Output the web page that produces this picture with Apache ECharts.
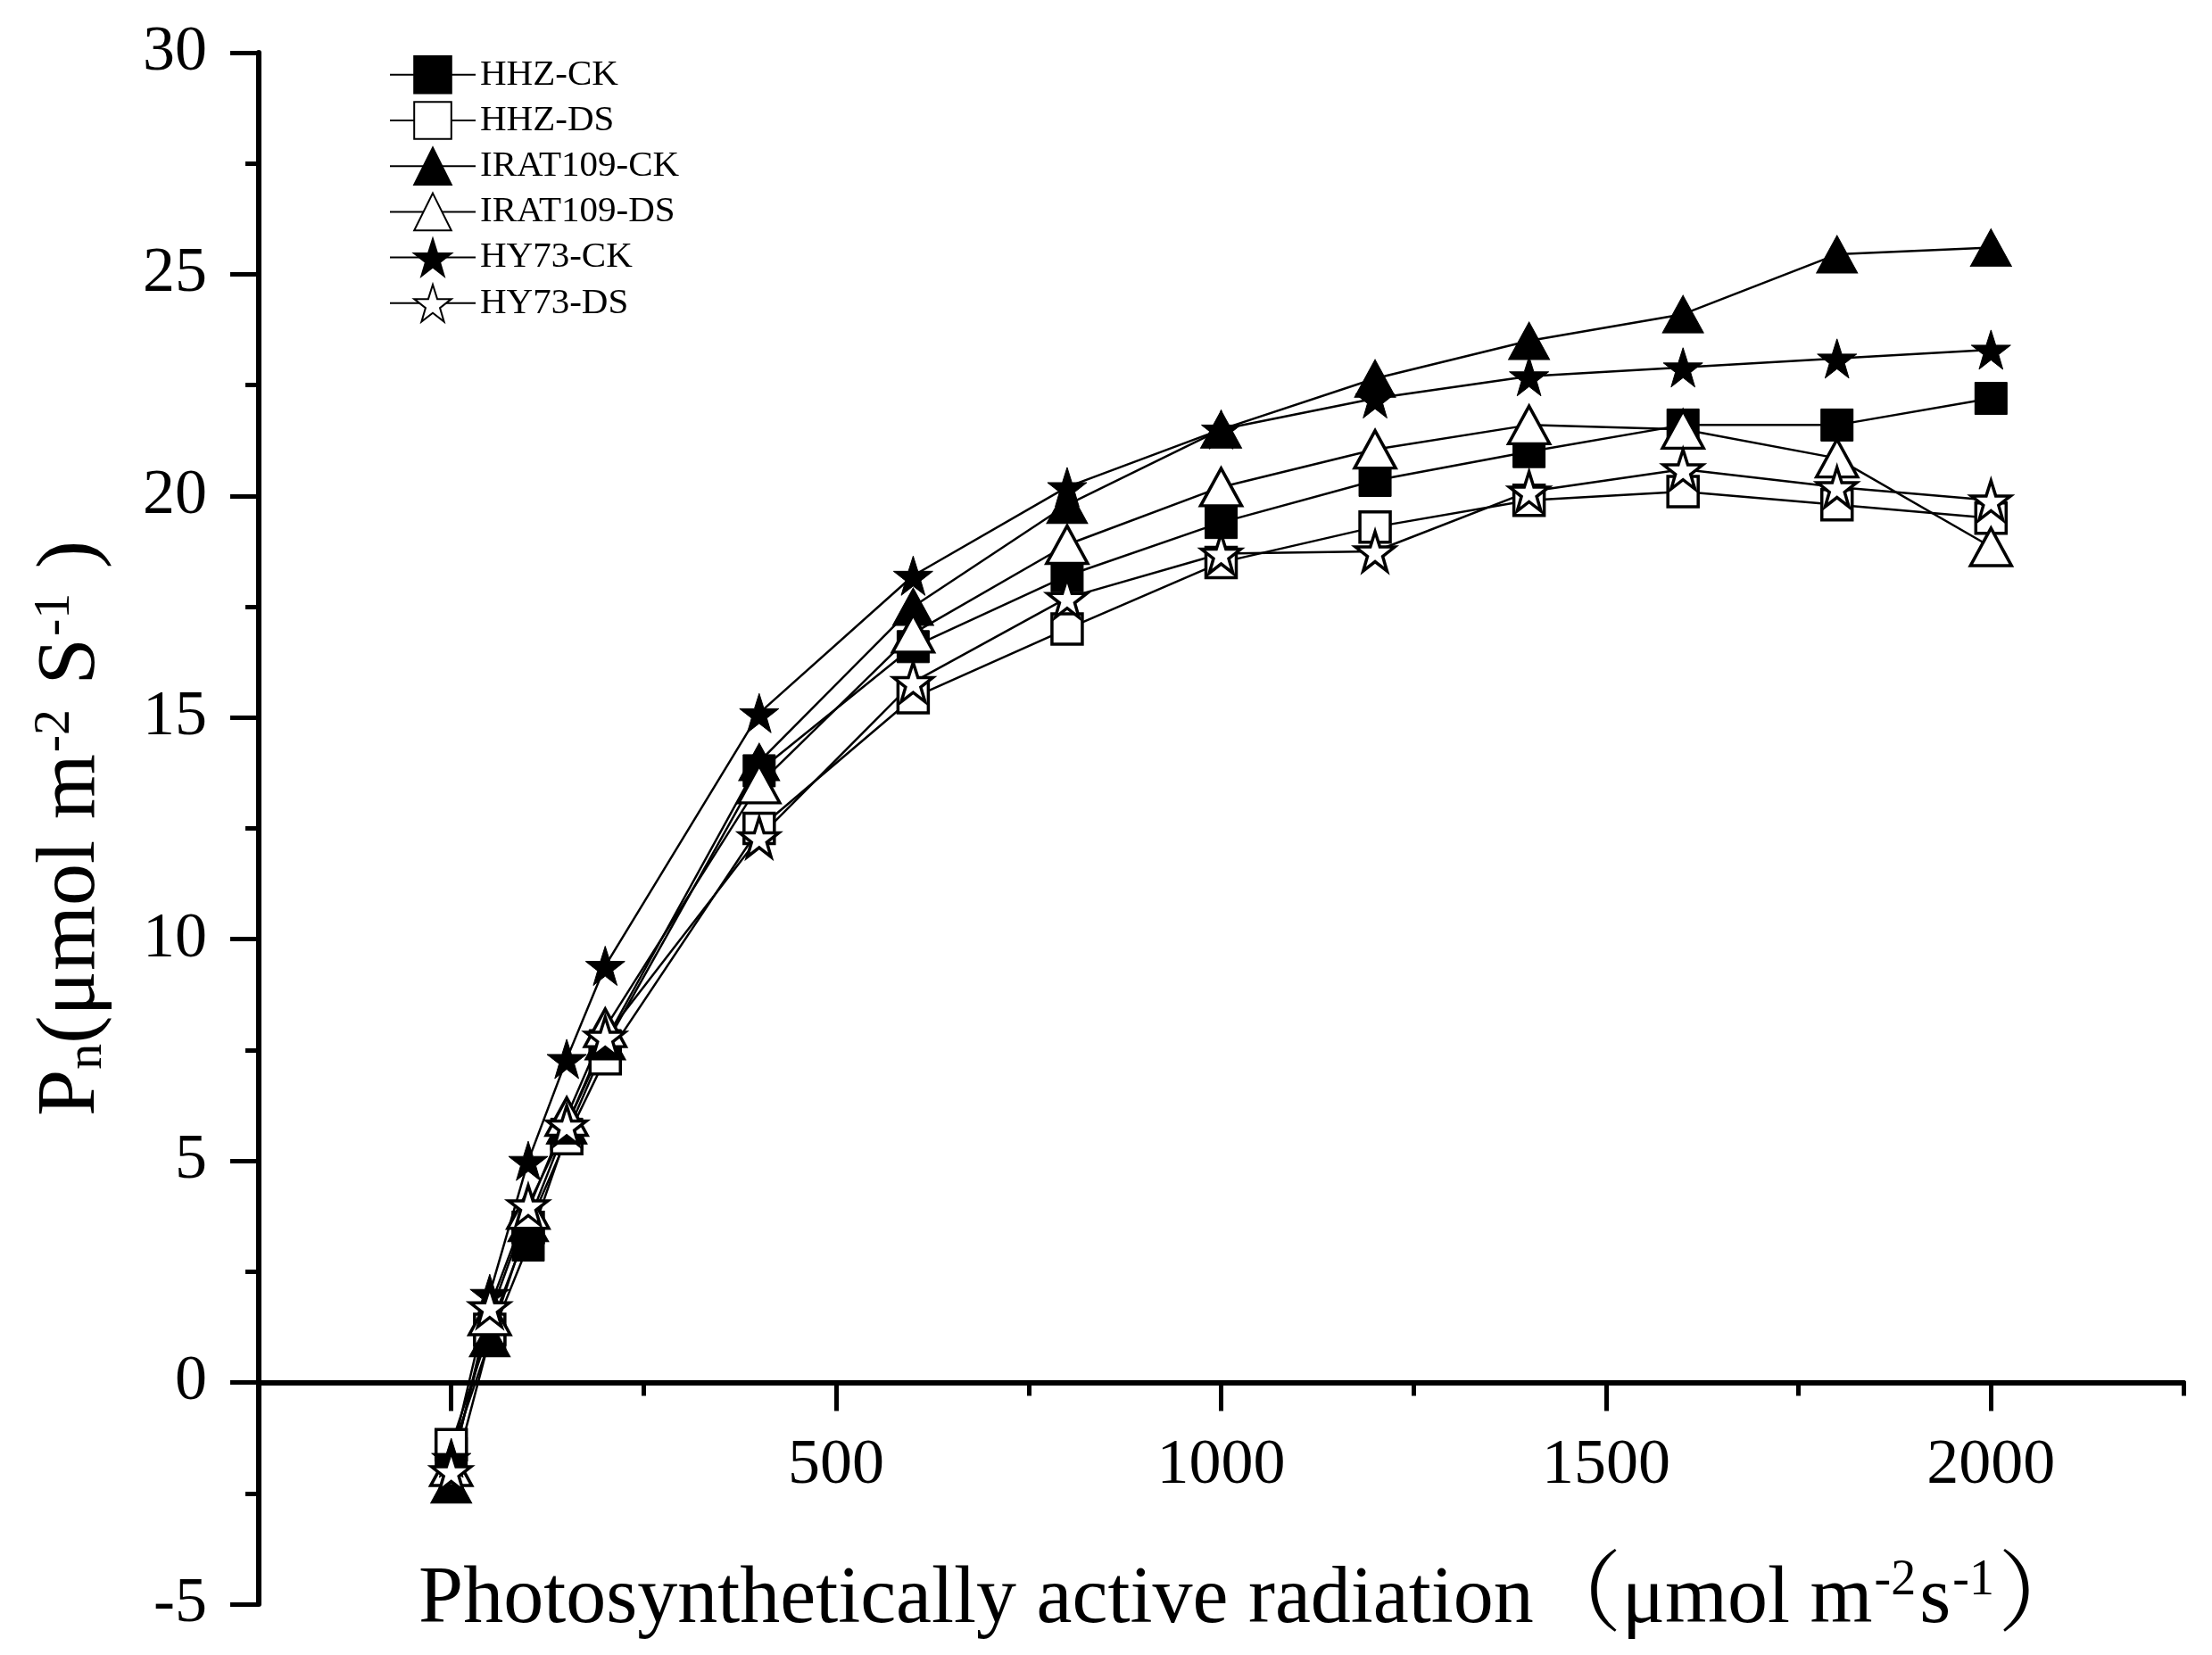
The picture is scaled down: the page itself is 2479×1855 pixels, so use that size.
<!DOCTYPE html>
<html>
<head>
<meta charset="utf-8">
<script src="https://cdn.jsdelivr.net/npm/echarts@6/dist/echarts.min.js"></script>
<style>
html,body{margin:0;padding:0;background:#fff;}
#c{width:2479px;height:1855px;}
</style>
</head>
<body>
<div id="c"></div>
<script>
const parValues = [0, 50, 100, 150, 200, 400, 600, 800, 1000, 1200, 1400, 1600, 1800, 2000];
const hhzCK   = [-1.6, 0.95, 3.1, 5.6, 7.6, 13.8, 16.6, 18.2, 19.4, 20.35, 21.0, 21.6, 21.6, 22.2];
const hhzDS   = [-1.4, 1.2, 3.5, 5.5, 7.3, 12.5, 15.45, 17.0, 18.5, 19.3, 19.9, 20.1, 19.8, 19.5];
const iratCK  = [-2.3, 1.0, 3.6, 5.8, 7.7, 14.0, 17.5, 19.8, 21.5, 22.65, 23.5, 24.1, 25.45, 25.6];
const iratDS  = [-1.9, 1.5, 3.9, 6.0, 8.0, 13.5, 16.9, 18.9, 20.2, 21.05, 21.6, 21.5, 20.85, 18.85];
const hy73CK  = [-1.7, 2.0, 5.0, 7.3, 9.4, 15.1, 18.2, 20.2, 21.5, 22.2, 22.7, 22.9, 23.1, 23.3];
const hy73DS  = [-2.0, 1.7, 4.0, 5.8, 7.8, 12.3, 15.8, 17.7, 18.7, 18.75, 20.1, 20.6, 20.2, 19.9];
const seriesNames = ['HHZ-CK', 'HHZ-DS', 'IRAT109-CK', 'IRAT109-DS', 'HY73-CK', 'HY73-DS'];
const xMajorTicks = [0, 500, 1000, 1500, 2000];
const xMinorTicks = [250, 750, 1250, 1750, 2250];
const xTickLabels = [500, 1000, 1500, 2000];
const yMin = -5, yMax = 30;

const FONT = "'Liberation Serif', 'Noto Serif CJK SC', 'Noto Sans CJK SC', serif";
const STAR = 'path://M50,0 L61.8,35.1 L98.5,35.1 L68.8,56.8 L79.4,90.5 L50,69.1 L20.6,90.5 L31.2,56.8 L1.5,35.1 L38.2,35.1 Z';

function pairs(vals){ return parValues.map((x,i)=>[x, vals[i]]); }

function mk(name, vals, symbol, size, filled){
  return {
    name: name, type: 'line', data: pairs(vals),
    xAxisIndex: 0, yAxisIndex: 0,
    symbol: symbol, symbolSize: size,
    showAllSymbol: true,
    lineStyle: {color: '#000', width: 2.5},
    itemStyle: filled ? {color: '#000', borderColor: '#000', borderWidth: 1}
                      : {color: '#fff', borderColor: '#000', borderWidth: 3.5},
    emphasis: {disabled: true},
    z: 2
  };
}

const chart = echarts.init(document.getElementById('c'), null, {renderer: 'canvas', devicePixelRatio: 1});

function richFor(size){
  return {
    t: {fontSize: size, fontFamily: FONT, color: '#000'},
    p: {fontSize: Math.round(size*1.1), fontFamily: FONT, color: '#000'},
    sub: {fontSize: Math.round(size*0.62), fontFamily: FONT, color: '#000', verticalAlign: 'bottom', lineHeight: 40},
    sup: {fontSize: Math.round(size*0.62), fontFamily: FONT, color: '#000', verticalAlign: 'top', lineHeight: 50, padding: [0, 4, 0, 2]}
  };
}

const axisLineStyle = {color: '#000', width: 6};
const H = 1855, TOP = 59, BOTTOM = 57;
// second (axis-only) grid whose bottom edge sits on the value 0 of the main y axis
const zeroY = TOP + (yMax - 0) / (yMax - yMin) * (H - TOP - BOTTOM);

chart.setOption({
  animation: false,
  backgroundColor: '#fff',
  grid: [
    {left: 290, right: 32, top: TOP, bottom: BOTTOM, containLabel: false, outerBoundsMode: 'none'},
    {left: 290, right: 32, top: TOP, bottom: H - zeroY, containLabel: false, outerBoundsMode: 'none'}
  ],
  legend: {
    left: 431, top: 57, orient: 'vertical',
    itemWidth: 96, itemHeight: 52, itemGap: 7.6,
    textStyle: {fontFamily: FONT, fontSize: 41, color: '#000'},
    data: seriesNames
  },
  xAxis: [{
    gridIndex: 0, type: 'value', min: -250, max: 2250, interval: 250,
    show: false
  }, {
    gridIndex: 1, type: 'value', min: -250, max: 2250, interval: 250, position: 'bottom',
    axisLine: {show: true, onZero: false, lineStyle: axisLineStyle},
    axisTick: {show: true, length: 32, lineStyle: {color: '#000', width: 5}, customValues: xMajorTicks},
    axisLabel: {show: true, margin: 58, fontFamily: FONT, fontSize: 72, color: '#000', customValues: xTickLabels,
                formatter: v => String(v)},
    splitLine: {show: false},
    name: '{t|Photosynthetically active radiation}{p|（}{t|μmol m}{sup|-2}{t|s}{sup|-1}{p|）}',
    nameLocation: 'middle', nameGap: 195,
    nameTextStyle: {padding: [0, 0, 0, 70], rich: richFor(90)}
  }, {
    gridIndex: 1, type: 'value', min: -250, max: 2250, interval: 250, position: 'bottom',
    axisLine: {show: true, onZero: false, lineStyle: axisLineStyle},
    axisTick: {show: true, length: 15, lineStyle: {color: '#000', width: 5}, customValues: xMinorTicks},
    axisLabel: {show: false},
    splitLine: {show: false}
  }],
  yAxis: [{
    gridIndex: 0, type: 'value', min: yMin, max: yMax, interval: 5,
    axisLine: {show: true, onZero: false, lineStyle: axisLineStyle},
    axisTick: {show: true, length: 32, lineStyle: {color: '#000', width: 5}},
    minorTick: {show: true, splitNumber: 2, length: 15, lineStyle: {color: '#000', width: 5}},
    axisLabel: {margin: 58, fontFamily: FONT, fontSize: 72, color: '#000'},
    splitLine: {show: false},
    name: '{t|P}{sub|n}{t|(μmol m}{sup|-2}{t| S}{sup|-1}{t| )}',
    nameLocation: 'middle', nameRotate: 90, nameGap: 163,
    nameTextStyle: {rich: richFor(94)}
  }, {
    gridIndex: 1, type: 'value', min: 0, max: 1, show: false
  }],
  series: [
    mk(seriesNames[0], hhzCK, 'rect', 36, true),
    mk(seriesNames[1], hhzDS, 'rect', 34, false),
    mk(seriesNames[2], iratCK, 'triangle', [46, 42], true),
    mk(seriesNames[3], iratDS, 'triangle', [46, 42], false),
    mk(seriesNames[4], hy73CK, STAR, 44, true),
    mk(seriesNames[5], hy73DS, STAR, 44, false)
  ]
});
</script>
</body>
</html>
